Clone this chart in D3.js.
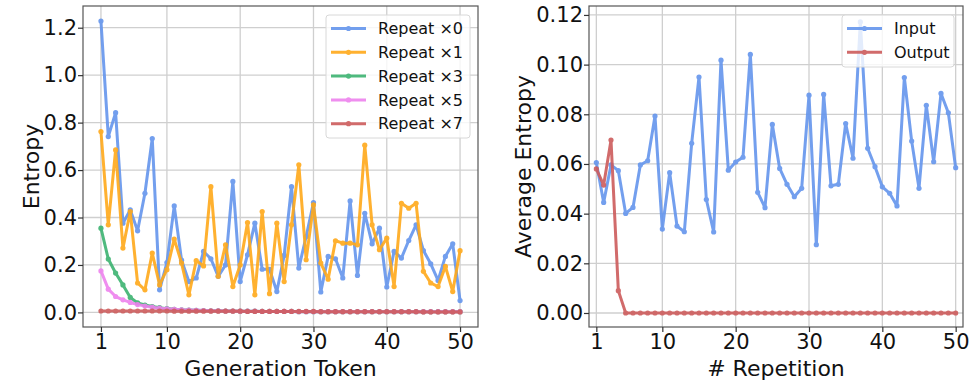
<!DOCTYPE html>
<html>
<head>
<meta charset="utf-8">
<script src="https://cdn.jsdelivr.net/npm/d3@7"></script>
<style>
  body { margin: 0; background: #fff; }
  svg text { font-family: "DejaVu Sans", sans-serif; fill: #111; }
</style>
</head>
<body>
<script>
// x categories
const TOKENS = [1,2,3,4,5,6,7,8,9,10,11,12,13,14,15,16,17,18,19,20,21,22,23,24,25,
  26,27,28,29,30,31,32,33,34,35,36,37,38,39,40,41,42,43,44,45,46,47,48,49,50];
const X_TICKS = [1, 10, 20, 30, 40, 50];
const LEFT_Y_TICKS = [0, 0.2, 0.4, 0.6, 0.8, 1.0, 1.2];
const RIGHT_Y_TICKS = [0, 0.02, 0.04, 0.06, 0.08, 0.1, 0.12];

// left panel series
const REPEAT_0 = [1.228,0.741,0.842,0.376,0.432,0.344,0.502,0.733,0.095,0.21,
  0.449,0.22,0.13,0.145,0.257,0.226,0.152,0.2,0.552,0.13,
  0.243,0.376,0.182,0.182,0.088,0.24,0.53,0.187,0.32,0.463,
  0.086,0.236,0.226,0.145,0.47,0.156,0.418,0.289,0.355,0.107,
  0.257,0.229,0.303,0.369,0.261,0.205,0.135,0.236,0.289,0.05];
const REPEAT_1 = [0.762,0.369,0.685,0.271,0.425,0.124,0.095,0.25,0.116,0.18,
  0.309,0.208,0.074,0.218,0.196,0.53,0.152,0.285,0.109,0.2,
  0.379,0.074,0.425,0.079,0.376,0.13,0.369,0.622,0.222,0.453,
  0.208,0.14,0.302,0.292,0.292,0.285,0.705,0.369,0.264,0.313,
  0.109,0.46,0.439,0.46,0.173,0.124,0.109,0.194,0.088,0.26];
const REPEAT_3 = [0.355,0.225,0.166,0.116,0.063,0.04,0.031,0.025,0.02,0.016,
  0.013,0.011,0.01,0.009,0.008,0.007,0.007,0.006,0.006,0.005,
  0.005,0.005,0.004,0.004,0.004,0.004,0.004,0.003,0.003,0.003,
  0.003,0.003,0.003,0.003,0.003,0.003,0.003,0.003,0.003,0.003,
  0.003,0.003,0.003,0.003,0.003,0.003,0.003,0.003,0.003,0.003];
const REPEAT_5 = [0.175,0.098,0.067,0.053,0.042,0.033,0.027,0.022,0.018,0.015,
  0.013,0.011,0.01,0.009,0.008,0.007,0.007,0.006,0.006,0.005,
  0.005,0.005,0.004,0.004,0.004,0.004,0.004,0.003,0.003,0.003,
  0.003,0.003,0.003,0.003,0.003,0.003,0.003,0.003,0.003,0.003,
  0.003,0.003,0.003,0.003,0.003,0.003,0.003,0.003,0.003,0.003];
const REPEAT_7 = [0.006,0.006,0.006,0.006,0.006,0.006,0.006,0.006,0.006,0.006,
  0.005,0.005,0.005,0.005,0.005,0.005,0.005,0.005,0.005,0.005,
  0.004,0.004,0.004,0.004,0.004,0.004,0.004,0.004,0.004,0.004,
  0.003,0.003,0.003,0.003,0.003,0.003,0.003,0.003,0.003,0.003,
  0.003,0.003,0.003,0.003,0.002,0.002,0.002,0.002,0.002,0.002];

// right panel series
const INPUT = [0.0606,0.0445,0.0596,0.0573,0.0401,0.0425,0.0596,0.0613,0.0793,0.0338,
  0.0565,0.035,0.0327,0.0683,0.095,0.0457,0.0326,0.1018,0.0575,0.0608,
  0.0627,0.1041,0.0486,0.0424,0.0759,0.0582,0.0518,0.0468,0.0502,0.0877,
  0.0275,0.088,0.0512,0.0518,0.0763,0.0623,0.1172,0.0663,0.0589,0.0508,
  0.0482,0.0431,0.0948,0.0692,0.0502,0.0836,0.0609,0.0884,0.0806,0.0585];
const OUTPUT = [0.058,0.0515,0.0696,0.009,0,0,0,0,0,0,
  0,0,0,0,0,0,0,0,0,0,
  0,0,0,0,0,0,0,0,0,0,
  0,0,0,0,0,0,0,0,0,0,
  0,0,0,0,0,0,0,0,0,0];

const LEFT_SERIES = [
  { name: "Repeat \u00d70", values: REPEAT_0, color: "#6495ed" },
  { name: "Repeat \u00d71", values: REPEAT_1, color: "#ffa91a" },
  { name: "Repeat \u00d73", values: REPEAT_3, color: "#3cb371" },
  { name: "Repeat \u00d75", values: REPEAT_5, color: "#ee82ee" },
  { name: "Repeat \u00d77", values: REPEAT_7, color: "#cd5c5c" }
];
const RIGHT_SERIES = [
  { name: "Input", values: INPUT, color: "#6495ed" },
  { name: "Output", values: OUTPUT, color: "#cd5c5c" }
];

const width = 977,
  height = 388;

const svg = d3
  .select("body")
  .append("svg")
  .attr("width", width)
  .attr("height", height);

function drawPanel(opts) {
  const { box, xDomain, yDomain, yTicks, yFormat, series, xLabel, yLabel, yLabelX, legend } = opts;

  const xScale = d3.scaleLinear().domain(xDomain).range([box.left, box.right]);
  const yScale = d3.scaleLinear().domain(yDomain).range([box.bottom, box.top]);

  const g = svg.append("g");

  // grid
  g.append("g")
    .selectAll("line")
    .data(X_TICKS)
    .enter()
    .append("line")
    .attr("x1", d => xScale(d))
    .attr("x2", d => xScale(d))
    .attr("y1", box.top)
    .attr("y2", box.bottom)
    .attr("stroke", "#cfcfcf")
    .attr("stroke-width", 1.3);
  g.append("g")
    .selectAll("line")
    .data(yTicks)
    .enter()
    .append("line")
    .attr("x1", box.left)
    .attr("x2", box.right)
    .attr("y1", d => yScale(d))
    .attr("y2", d => yScale(d))
    .attr("stroke", "#cfcfcf")
    .attr("stroke-width", 1.3);

  // lines
  const line = d3
    .line()
    .x((d, i) => xScale(TOKENS[i]))
    .y(d => yScale(d));

  series.forEach(s => {
    const sg = g.append("g").attr("opacity", 0.9);
    sg.append("path")
      .datum(s.values)
      .attr("fill", "none")
      .attr("stroke", s.color)
      .attr("stroke-width", 3)
      .attr("stroke-linejoin", "round")
      .attr("d", line);
    sg.selectAll("circle")
      .data(s.values)
      .enter()
      .append("circle")
      .attr("cx", (d, i) => xScale(TOKENS[i]))
      .attr("cy", d => yScale(d))
      .attr("r", 2.6)
      .attr("fill", s.color);
  });

  // frame
  g.append("rect")
    .attr("x", box.left)
    .attr("y", box.top)
    .attr("width", box.right - box.left)
    .attr("height", box.bottom - box.top)
    .attr("fill", "none")
    .attr("stroke", "#555")
    .attr("stroke-width", 1.2);

  // axes
  const xAxis = d3.axisBottom(xScale).tickValues(X_TICKS).tickSize(5).tickPadding(2).tickSizeOuter(0);
  const xg = g.append("g").attr("transform", `translate(0, ${box.bottom})`).call(xAxis);
  const yAxis = d3.axisLeft(yScale).tickValues(yTicks).tickFormat(yFormat).tickSize(5).tickPadding(1).tickSizeOuter(0);
  const yg = g.append("g").attr("transform", `translate(${box.left}, 0)`).call(yAxis);
  [xg, yg].forEach(a => {
    a.select(".domain").remove();
    a.selectAll(".tick line").attr("stroke", "#333").attr("stroke-width", 1.2);
    a.selectAll(".tick text").style("font-size", "21px").attr("fill", "#111");
  });

  g.append("text")
    .attr("x", (box.left + box.right) / 2)
    .attr("y", 376)
    .attr("text-anchor", "middle")
    .style("font-size", "22px")
    .text(xLabel);

  g.append("text")
    .attr("transform", `translate(${yLabelX}, ${(box.top + box.bottom) / 2}) rotate(-90)`)
    .attr("text-anchor", "middle")
    .style("font-size", "22px")
    .text(yLabel);

  // legend
  const lg = g.append("g");
  lg.append("rect")
    .attr("x", legend.x)
    .attr("y", legend.y)
    .attr("width", legend.w)
    .attr("height", legend.h)
    .attr("rx", 3)
    .attr("fill", "#fff")
    .attr("fill-opacity", 0.8)
    .attr("stroke", "#d8d8d8")
    .attr("stroke-width", 1);
  series.forEach((s, i) => {
    const y = legend.y + 13.5 + i * 23.8;
    const row = lg.append("g").attr("opacity", 0.9);
    row.append("line")
      .attr("x1", legend.x + 5)
      .attr("x2", legend.x + 40)
      .attr("y1", y)
      .attr("y2", y)
      .attr("stroke", s.color)
      .attr("stroke-width", 3);
    row.append("circle")
      .attr("cx", legend.x + 22.5)
      .attr("cy", y)
      .attr("r", 2.6)
      .attr("fill", s.color);
    lg.append("text")
      .attr("x", legend.x + 52)
      .attr("y", y)
      .attr("dy", "0.36em")
      .style("font-size", "16px")
      .text(s.name);
  });
}

drawPanel({
  box: { left: 83, right: 478, top: 6, bottom: 327 },
  xDomain: [-1.45, 52.45],
  yDomain: [-0.0615, 1.2915],
  yTicks: LEFT_Y_TICKS,
  yFormat: d3.format(".1f"),
  series: LEFT_SERIES,
  xLabel: "Generation Token",
  yLabel: "Entropy",
  yLabelX: 39,
  legend: { x: 326, y: 15, w: 144, h: 123 }
});

drawPanel({
  box: { left: 589, right: 963, top: 6, bottom: 327 },
  xDomain: [0, 51],
  yDomain: [-0.00564, 0.1236],
  yTicks: RIGHT_Y_TICKS,
  yFormat: d3.format(".2f"),
  series: RIGHT_SERIES,
  xLabel: "# Repetition",
  yLabel: "Average Entropy",
  yLabelX: 531,
  legend: { x: 842, y: 15, w: 112, h: 52 }
});
</script>
</body>
</html>
